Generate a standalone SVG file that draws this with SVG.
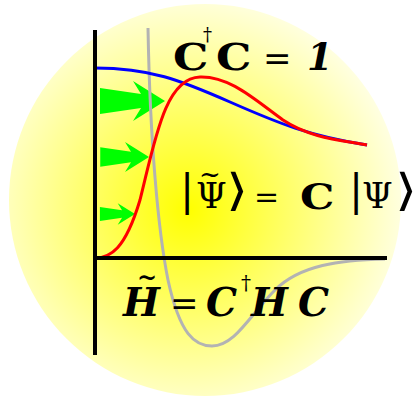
<svg xmlns="http://www.w3.org/2000/svg" width="415" height="400" viewBox="0 0 415 400">
<defs>
<radialGradient id="glow" cx="188" cy="210" r="215" gradientUnits="userSpaceOnUse">
<stop offset="0" stop-color="#ffff00"/>
<stop offset="1" stop-color="#ffffe0"/>
</radialGradient>
<path id="arr" d="M-65,-13 L-24,-7 L-32,-20 L0,0 L-32,20 L-24,7 L-65,13 Z" fill="#00ff00"/>
<style>
.ax{stroke:#000;stroke-width:4;fill:none}
.cv{fill:none;stroke-width:3}
.f{font-family:"DejaVu Serif",serif;fill:#000}
.s{font-family:"DejaVu Sans",sans-serif;fill:#000}
.b{font-weight:bold}
.i{font-style:italic}
</style>
</defs>
<rect width="415" height="400" fill="#fff"/>
<circle cx="205" cy="200" r="196" fill="url(#glow)"/>
<g id="arrows">
<use href="#arr" transform="translate(165,101)"/>
<use href="#arr" transform="translate(149,157) scale(0.75)"/>
<use href="#arr" transform="translate(135,214) scale(0.54)"/>
</g>
<g id="curves">
<path class="cv" stroke="#b3b3b3" d="M148,28 C150,140 158,230 168,280 C180,335 195,346 212,346 C235,346 250,315 275,290 C300,265 340,260 385,259"/>
<path class="cv" stroke="#0000ff" d="M95,68 C150,68 180,80 230,102 C280,124 310,136 367,145"/>
<path class="cv" stroke="#ff0000" d="M95,258 C110,258 125,250 140,200 C155,140 165,78 200,77 C230,76 255,100 283,120 C310,138 340,140 367,145"/>
</g>
<g id="axes">
<line class="ax" x1="95" y1="30" x2="95" y2="355"/>
<line class="ax" x1="93" y1="258" x2="387" y2="258"/>
</g>
<g id="eq1">
<text class="f b" font-size="37" transform="translate(173,70) scale(1.2,1)">C</text>
<text class="f" x="203" y="41" font-size="18">†</text>
<text class="f b" font-size="37" transform="translate(216,70) scale(1.2,1)">C</text>
<text class="f" x="263" y="70" font-size="34">=</text>
<text class="f b i" x="307" y="70" font-size="37">1</text>
</g>
<g id="eq2">
<text class="f" x="180" y="205" font-size="42">|</text>
<text class="f" x="196" y="208" font-size="35">Ψ</text>
<text class="f" x="199" y="183" font-size="26">~</text>
<text class="s" font-size="44" transform="translate(226,205) scale(1.3,1)">⟩</text>
<text class="f" x="254" y="207" font-size="30">=</text>
<text class="f b" font-size="36" transform="translate(300,209) scale(1.2,1)">C</text>
<text class="f" x="349" y="205" font-size="42">|</text>
<text class="f" x="362" y="208" font-size="35">Ψ</text>
<text class="s" font-size="44" transform="translate(395,205) scale(1.3,1)">⟩</text>
</g>
<g id="eq3">
<text class="f b i" x="123" y="316" font-size="39">H</text>
<text class="f b" x="137" y="285" font-size="24">~</text>
<text class="f" x="170" y="315" font-size="34">=</text>
<text class="f b i" x="206" y="316" font-size="39">C</text>
<text class="f" x="241" y="290" font-size="20">†</text>
<text class="f b i" x="251" y="316" font-size="39">H</text>
<text class="f b i" x="298" y="316" font-size="39">C</text>
</g>
</svg>
